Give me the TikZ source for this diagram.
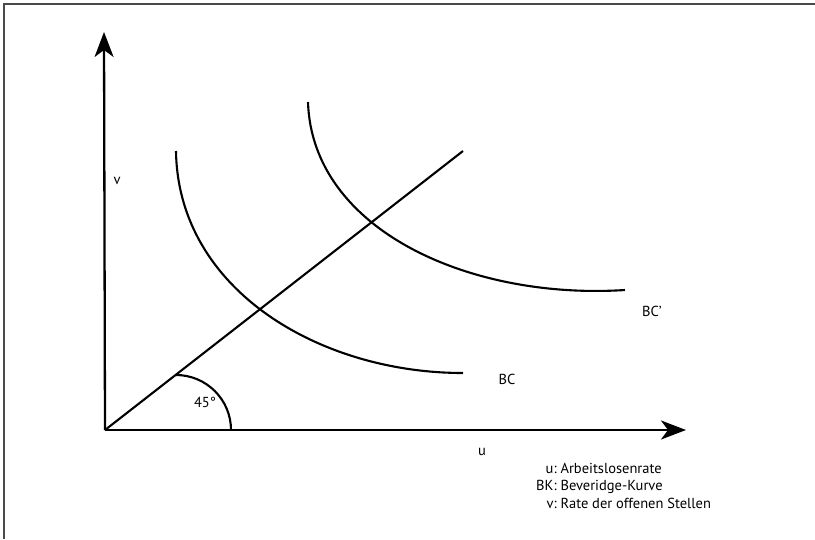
\documentclass[tikz,border=0pt]{standalone}
\usepackage{fontspec}
\setmainfont{PT Sans}
\usepackage{xcolor}
\usetikzlibrary{arrows.meta,positioning,calc}
\definecolor{frame}{HTML}{4A4A4A}

\begin{document}
\begin{tikzpicture}[
          x=1pt, y=-1pt,
          every node/.style={font=\fontsize{14.5}{17.5}\selectfont, inner sep=0pt},
          axis/.style={-{Stealth[length=25pt, width=19pt, inset=7pt]}, line width=2.3pt},
          curve/.style={line width=2.1pt},
          lbl/.style={anchor=center}
      ]
        \useasboundingbox (0,0) rectangle (815,539);
        \draw[frame, line width=1.6pt] (4,539) -- (4,4) -- (815,4);

        % axes
        \coordinate (origin) at (105,430);
        \coordinate (vtip) at (104,32);
        \coordinate (utip) at (686,430);
        \draw[axis] (origin) -- (vtip);
        \draw[axis] (origin) -- (utip);

        % 45 degree line and angle arc
        \coordinate (diag) at (463,151);
        \draw[curve] (origin) -- (diag);
        \coordinate (arcstart) at (231,430);
        \draw[curve] (arcstart) arc[start angle=0, end angle=-90, radius=55];

        % Beveridge curves
        \coordinate (bcA) at (176,151);
        \coordinate (bcB) at (463,373);
        \draw[curve] (bcA) .. controls (178,290) and (320,373) .. (bcB);
        \coordinate (bcpA) at (308,102);
        \coordinate (bcpB) at (625,290);
        \draw[curve] (bcpA) .. controls (312,230) and (470,300) .. (bcpB);

        % labels
        \node[lbl] (vlabel) at (117,181) {v};
        \node[lbl] (ulabel) at (482,452) {u};
        \node[lbl] (angle) at (205,402) {45°};
        \node[lbl] (bc) at (507,379) {BC};
        \node[lbl] (bcp) at (652,311) {BC’};

        \node[anchor=north west, inner sep=0pt] (legend) at (536,461)
              {\begin{tabular}{@{}r@{}l@{}}
                 u:&\ Arbeitslosenrate \\
                 BK:&\ Beveridge-Kurve \\
                 v:&\ Rate der offenen Stellen
               \end{tabular}};
      \end{tikzpicture}
\end{document}
